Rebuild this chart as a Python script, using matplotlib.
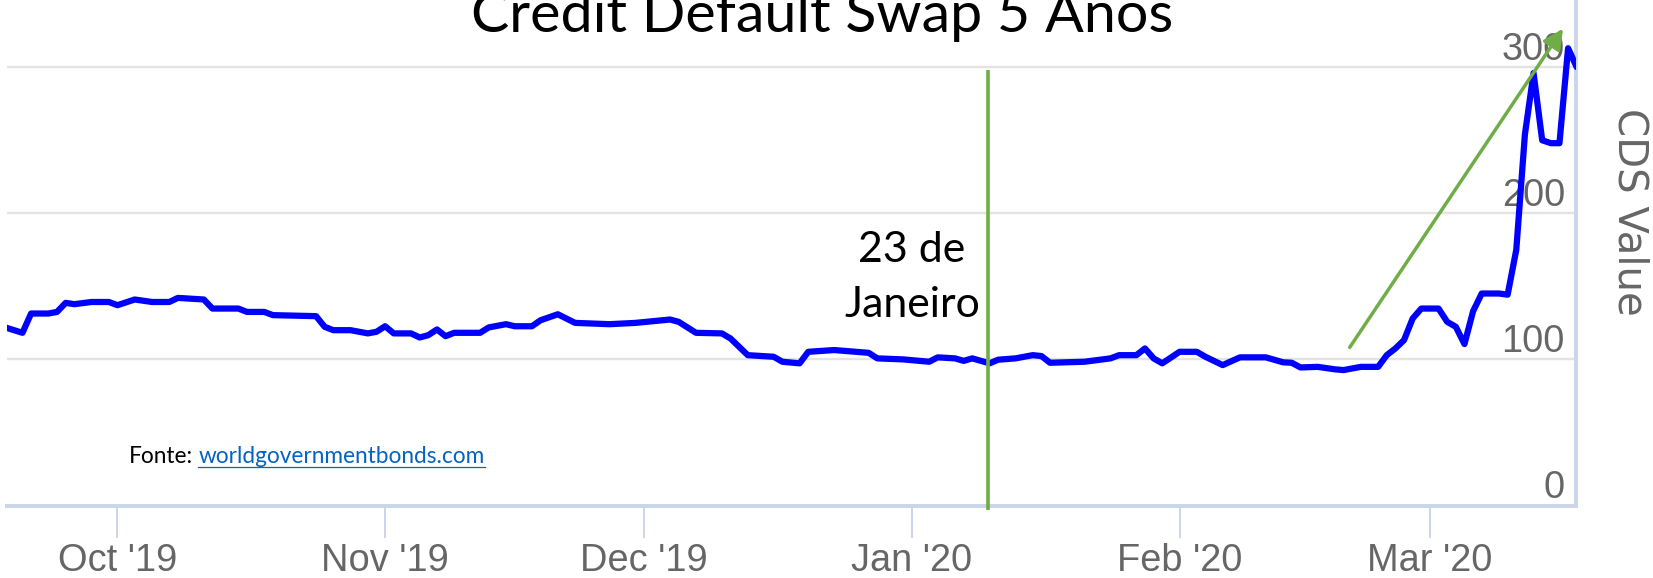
import matplotlib
matplotlib.use("Agg")
import matplotlib.pyplot as plt
import pandas as pd
from matplotlib.lines import Line2D

# ---------------- data ----------------
dates = [
    "2019-09-18", "2019-09-20", "2019-09-21", "2019-09-23", "2019-09-24", "2019-09-25",
    "2019-09-26", "2019-09-28", "2019-09-30",
    "2019-10-01", "2019-10-03", "2019-10-05", "2019-10-07", "2019-10-08", "2019-10-11",
    "2019-10-12", "2019-10-15", "2019-10-16", "2019-10-18", "2019-10-19", "2019-10-24",
    "2019-10-25", "2019-10-26", "2019-10-28", "2019-10-30", "2019-10-31",
    "2019-11-01", "2019-11-02", "2019-11-04", "2019-11-05", "2019-11-06", "2019-11-07",
    "2019-11-08", "2019-11-09", "2019-11-12", "2019-11-13", "2019-11-15", "2019-11-16",
    "2019-11-18", "2019-11-19", "2019-11-21", "2019-11-23", "2019-11-27", "2019-11-30",
    "2019-12-04", "2019-12-05", "2019-12-07", "2019-12-10", "2019-12-11", "2019-12-13",
    "2019-12-16", "2019-12-17", "2019-12-19", "2019-12-20", "2019-12-23", "2019-12-27",
    "2019-12-28", "2019-12-31",
    "2020-01-03", "2020-01-04", "2020-01-06", "2020-01-07", "2020-01-08", "2020-01-10",
    "2020-01-11", "2020-01-13", "2020-01-15", "2020-01-16", "2020-01-17", "2020-01-21",
    "2020-01-24", "2020-01-25", "2020-01-27", "2020-01-28", "2020-01-29", "2020-01-30",
    "2020-02-01", "2020-02-03", "2020-02-04", "2020-02-06", "2020-02-08", "2020-02-11",
    "2020-02-13", "2020-02-14", "2020-02-15", "2020-02-17", "2020-02-19", "2020-02-20",
    "2020-02-22", "2020-02-24", "2020-02-25", "2020-02-26", "2020-02-27", "2020-02-28",
    "2020-02-29",
    "2020-03-02", "2020-03-03", "2020-03-04", "2020-03-05", "2020-03-06", "2020-03-07",
    "2020-03-09", "2020-03-10", "2020-03-11", "2020-03-12", "2020-03-13", "2020-03-14",
    "2020-03-15", "2020-03-16", "2020-03-17", "2020-03-18",
]
cds_values = [
    121.9, 118.2, 131.4, 131.4, 132.5, 138.7, 137.8, 139.3, 139.3,
    137.1, 141.0, 139.3, 139.3, 142.1, 141.0, 134.8, 134.8, 132.5, 132.5, 130.3, 129.6,
    122.3, 120.0, 120.0, 117.8, 118.9,
    122.7, 117.8, 117.8, 115.0, 116.6, 120.5, 115.9, 118.2, 118.2, 121.9, 124.1, 122.7,
    122.7, 126.8, 130.9, 125.0, 124.1, 125.0,
    127.3, 125.7, 118.2, 117.8, 114.3, 102.9, 101.8, 98.4, 97.3, 105.2, 106.4, 104.5,
    100.7, 100.0,
    98.4, 101.4, 100.7, 99.0, 100.7, 97.3, 99.8, 100.7, 102.9, 102.3, 97.7, 98.4,
    100.7, 102.9, 102.9, 107.5, 100.7, 97.3,
    105.2, 105.2, 101.8, 96.1, 101.4, 101.4, 98.0, 97.7, 94.5, 94.9, 93.2, 92.7,
    94.9, 94.9, 102.9, 107.5, 113.2, 128.0, 134.8,
    134.8, 125.7, 122.3, 110.5, 133.0, 145.1, 145.1, 144.3, 175.0, 254.0, 296.0, 250.0,
    248.0, 248.0, 313.0, 300.0,
]
tick_dates = ["2019-10-01", "2019-11-01", "2019-12-01", "2020-01-01", "2020-02-01", "2020-03-01"]
tick_labels = ["Oct '19", "Nov '19", "Dec '19", "Jan '20", "Feb '20", "Mar '20"]
ytick_values = [0, 100, 200, 300]

title = "Credit Default Swap 5 Anos"
y_title = "CDS Value"
mark_date = "2020-01-09 19:00"
mark_text = ["23 de", "Janeiro"]
arrow_start = ("2020-02-20 17:00", 108.2)
arrow_end = ("2020-03-16 10:00", 326.4)
source_label = "Fonte:"
source_link = "worldgovernmentbonds.com"

# ---------------- figure ----------------
W, H = 1653, 578
fig = plt.figure(figsize=(W / 100, H / 100), dpi=100)
fig.patch.set_facecolor("white")
ax_left, ax_right, ax_bottom_px = 7, 1576, 505.5
ax = fig.add_axes([ax_left / W, (H - ax_bottom_px) / H, (ax_right - ax_left) / W, ax_bottom_px / H])

x = pd.to_datetime(dates)
ax.plot(x, cds_values, color="#0000ff", lw=4.5, solid_joinstyle="round",
        solid_capstyle="round", zorder=5)
ax.set_xlim(pd.Timestamp("2019-09-18 05:00"), pd.Timestamp("2020-03-17 22:00"))
ax.set_ylim(0, 346)

for g in ytick_values[1:]:
    ax.axhline(g, color="#e3e3e3", lw=1.7, zorder=1)

for s in ["top", "left"]:
    ax.spines[s].set_visible(False)
for s in ["bottom", "right"]:
    ax.spines[s].set_color("#ccd6eb")
    ax.spines[s].set_linewidth(2.9)
    ax.spines[s].set_zorder(2)

ax.set_yticks([])
ax.set_xticks(pd.to_datetime(tick_dates))
ax.set_xticklabels(tick_labels, fontsize=27.4, color="#666666", family="Liberation Sans")
ax.tick_params(axis="x", length=23, width=1.44, color="#ccd6eb", pad=4, direction="out")

for v in ytick_values:
    ax.annotate(str(v), xy=(1, v), xycoords=("axes fraction", "data"), xytext=(-11, 7),
                textcoords="offset pixels", ha="right", va="baseline", fontsize=27.4,
                color="#666666", family="Liberation Sans", zorder=3)

# green vertical marker line
md = pd.Timestamp(mark_date)
ax.plot([md, md], [298, -3], color="#70ad47", lw=2.6, clip_on=False, zorder=6,
        solid_capstyle="butt")

# green arrow
ax.annotate("", xy=(pd.Timestamp(arrow_end[0]), arrow_end[1]),
            xytext=(pd.Timestamp(arrow_start[0]), arrow_start[1]),
            arrowprops=dict(arrowstyle="-|>,head_length=0.6,head_width=0.3", color="#70ad47",
                            lw=2.5, shrinkA=0, shrinkB=0, mutation_scale=20),
            zorder=6)

renderer = fig.canvas.get_renderer()


def fit(t, target, use_height=False):
    for _ in range(4):
        bb = t.get_window_extent(renderer)
        cur = bb.height if use_height else bb.width
        t.set_fontsize(t.get_fontsize() * target / cur)


def P(px, py):
    return px / W, 1 - py / H


# title
tt = fig.text(*P(822, 31.6), title, ha="center", va="baseline", fontsize=45,
              family="Lato", color="black")
fit(tt, 702)

# mark annotation
tj = fig.text(*P(912, 317.3), mark_text[1], ha="center", va="baseline", fontsize=34,
              family="Lato", color="black")
fit(tj, 136)
t23 = fig.text(*P(912, 262), mark_text[0], ha="center", va="baseline",
               fontsize=tj.get_fontsize(), family="Lato", color="black")

# y-axis title
ty = fig.text(*P(1629, 212), y_title, rotation=270, ha="center", va="center", fontsize=27,
              family="DejaVu Sans", color="#666666")
fit(ty, 208, use_height=True)

# source text
fs = 13.0
base_y = 463
f1 = fig.text(*P(128.6, base_y), source_label, ha="left", va="baseline", fontsize=fs,
              family="Lato", color="black")
f2 = fig.text(*P(200, base_y), source_link, ha="left", va="baseline", fontsize=fs,
              family="Lato", color="#0563c1")
for _ in range(4):
    w1 = f1.get_window_extent(renderer).width
    w2 = f2.get_window_extent(renderer).width
    gap = 0.25 * fs * 100 / 72
    scale = (484 - 128.6) / (w1 + gap + w2)
    fs *= scale
    f1.set_fontsize(fs)
    f2.set_fontsize(fs)
    w1 = f1.get_window_extent(renderer).width
    gap = 0.25 * fs * 100 / 72
    f2.set_x((128.6 + w1 + gap) / W)
bb2 = f2.get_window_extent(renderer)
uy = (H - (base_y + 3.5)) / H
fig.add_artist(Line2D([bb2.x0 / W, bb2.x1 / W], [uy, uy], color="#0563c1", lw=0.9))

fig.savefig("out.png", dpi=100, facecolor="white")
